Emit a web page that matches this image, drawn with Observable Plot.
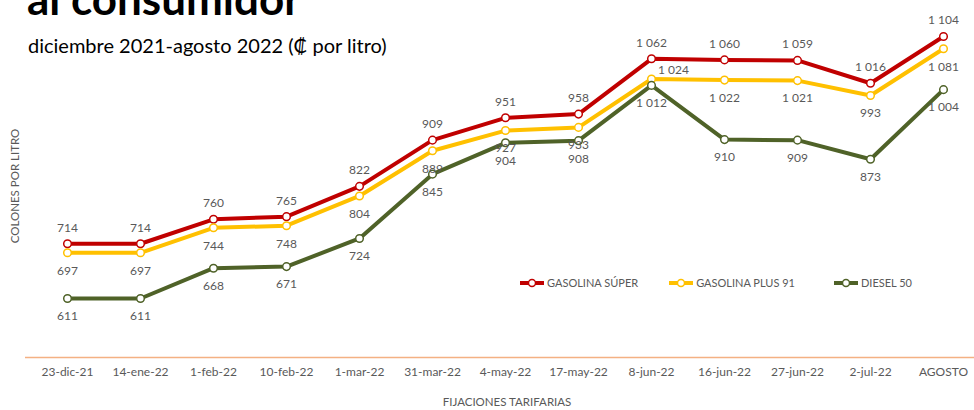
<!DOCTYPE html>
<html>
<head>
<meta charset="utf-8">
<script src="https://cdn.jsdelivr.net/npm/d3@7"></script>
<script src="https://cdn.jsdelivr.net/npm/@observablehq/plot@0.6"></script>
<style>
  body { margin: 0; background: #fff; font-family: Lato, "Open Sans", sans-serif; }
  #wrap { position: relative; width: 974px; height: 410px; overflow: hidden; }
  #title { position: absolute; left: 27px; top: -28px; font-size: 44px; font-weight: 700; color: #000; white-space: nowrap; }
  #subtitle { position: absolute; left: 28px; top: 33px; font-size: 20px; color: #000; white-space: nowrap; }
  #chart { position: absolute; left: 0; top: 0; }
  #legend { position: absolute; left: 519px; top: 276px; font-size: 11px; color: #595959; display: flex; white-space: nowrap; }
  .item { display: flex; align-items: center; }
  .item svg { margin-right: 2px; }
</style>
</head>
<body>
<div id="wrap">
  <div id="chart"></div>
  <div id="title">al consumidor</div>
  <div id="subtitle">diciembre 2021-agosto 2022 (₡ por litro)</div>
  <div id="legend"></div>
</div>
<script>
const categories = ["23-dic-21","14-ene-22","1-feb-22","10-feb-22","1-mar-22","31-mar-22","4-may-22","17-may-22","8-jun-22","16-jun-22","27-jun-22","2-jul-22","AGOSTO"];
const superValues = [714,714,760,765,822,909,951,958,1062,1060,1059,1016,1104];
const plusValues  = [697,697,744,748,804,889,927,933,1024,1022,1021,993,1081];
const dieselValues = [611,611,668,671,724,845,904,908,1012,910,909,873,1004];
const seriesNames = ["GASOLINA SÚPER","GASOLINA PLUS 91","DIESEL 50"];
const seriesColors = ["#C00000","#FFC000","#4F6228"];

const fmt = d3.formatLocale({decimal: ",", thousands: " ", grouping: [3]}).format(",");

const seriesValues = [superValues, plusValues, dieselValues];
const data = [];
seriesValues.forEach((vals, s) => vals.forEach((v, i) => data.push({cat: categories[i], value: v, series: seriesNames[s]})));

const sup = data.filter(d => d.series === seriesNames[0]);
const plus = data.filter(d => d.series === seriesNames[1]);
const dies = data.filter(d => d.series === seriesNames[2]);
const plusSpecial = plus.filter(d => d.cat === "8-jun-22");
const plusNormal = plus.filter(d => d.cat !== "8-jun-22");

const labelStyle = {fill: "#595959", fontSize: 12, text: d => fmt(d.value)};

const chart = Plot.plot({
  width: 974,
  height: 410,
  marginLeft: 25,
  marginRight: 0,
  marginTop: 20,
  marginBottom: 53,
  style: {fontFamily: "Lato, 'Open Sans', sans-serif", background: "transparent"},
  x: {type: "point", domain: categories, range: [63, 947], padding: 0, axis: null},
  y: {domain: [500, 1104], range: [357, 36], axis: null},
  color: {domain: seriesNames, range: seriesColors},
  marks: [
    Plot.ruleY([500], {stroke: "#F4B183", strokeWidth: 1.3}),
    Plot.axisX({anchor: "bottom", tickSize: 0, tickPadding: 10, fontSize: 12, color: "#595959", label: null}),
    Plot.text(["FIJACIONES TARIFARIAS"], {frameAnchor: "bottom", dy: 48, dx: 7, fontSize: 11.5, fill: "#595959"}),
    Plot.text(["COLONES POR LITRO"], {frameAnchor: "left", textAnchor: "middle", dx: -10, dy: -3, rotate: -90, fontSize: 11.5, fill: "#595959"}),
    Plot.line(data, {x: "cat", y: "value", z: "series", stroke: "series", strokeWidth: 4, strokeLinejoin: "round"}),
    Plot.dot(data, {x: "cat", y: "value", stroke: "series", fill: "white", r: 3.8, strokeWidth: 1.5}),
    Plot.text(sup, {x: "cat", y: "value", dy: -16, ...labelStyle}),
    Plot.text(plusNormal, {x: "cat", y: "value", dy: 18, ...labelStyle}),
    Plot.text(plusSpecial, {x: "cat", y: "value", dx: 22, dy: -9, ...labelStyle}),
    Plot.text(dies, {x: "cat", y: "value", dy: 18, ...labelStyle})
  ]
});
document.getElementById("chart").appendChild(chart);

const legend = document.getElementById("legend");
const gaps = [0, 30, 38];
seriesNames.forEach((name, i) => {
  const item = document.createElement("div");
  item.className = "item";
  item.style.marginLeft = gaps[i] + "px";
  item.innerHTML = `<svg width="26" height="12"><line x1="1" x2="25" y1="6" y2="6" stroke="${seriesColors[i]}" stroke-width="4"/><circle cx="13" cy="6" r="3.5" fill="white" stroke="${seriesColors[i]}" stroke-width="1.5"/></svg><span>${name}</span>`;
  legend.appendChild(item);
});
</script>
</body>
</html>
